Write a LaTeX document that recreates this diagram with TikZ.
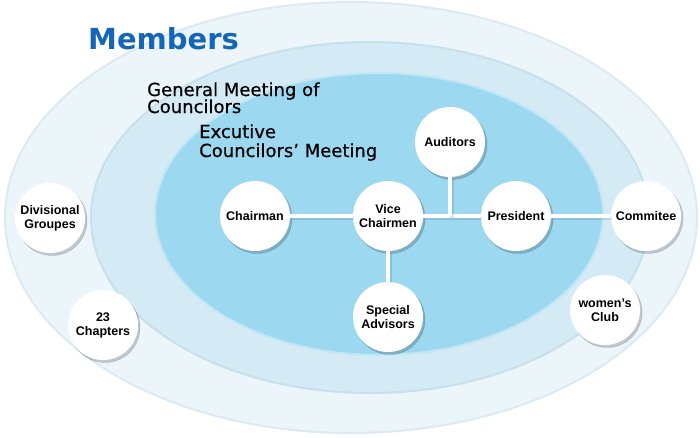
\documentclass[tikz,border=0pt]{standalone}
\usepackage{fontspec}
\setmainfont{Liberation Sans}
\newfontfamily\headfont[FakeBold=0.5]{DejaVu Sans}
\newfontfamily\bigfont{DejaVu Sans}
\usetikzlibrary{positioning}

\definecolor{ringout}{HTML}{EBF5FA}
\definecolor{ringoutedge}{HTML}{DCEAF1}
\definecolor{ringmid}{HTML}{D4EAF5}
\definecolor{ringmidedge}{HTML}{C6E0EC}
\definecolor{ringin}{HTML}{9CD9F1}
\definecolor{ringinedge}{HTML}{C2E6F4}
\definecolor{titleblue}{HTML}{1565B8}

\begin{document}
\begin{tikzpicture}[
  x=1pt, y=-1pt,
  shade ring/.style={preaction={draw=black, fill=black, opacity=#1,
    transform canvas={shift={(2pt,-2.5pt)}}}},
  member/.style={
    circle,
    fill=white,
    minimum size=70pt,
    inner sep=1pt,
    align=center,
    font=\bfseries\fontsize{12.5}{14}\selectfont,
    shade ring=0.05, preaction={line width=5pt},
    shade ring=0.06, preaction={line width=2.5pt},
    shade ring=0.08
  },
  link/.style={draw=white, line width=4pt},
  linkshade/.style={draw=black, opacity=0.10, line width=4pt,
    transform canvas={shift={(1.5pt,-1.5pt)}}},
  heading/.style={anchor=base west, inner sep=0pt, align=left,
    font=\headfont\fontsize{18}{18}\selectfont}
]
  \useasboundingbox (0,0) rectangle (700,437);

  % rings
  \filldraw[fill=ringout, draw=ringoutedge, line width=2pt]
    (351,217.5) ellipse [x radius=346, y radius=215.5];
  \filldraw[fill=ringmid, draw=ringmidedge, line width=2pt]
    (370,217.5) ellipse [x radius=279, y radius=175.5];
  \filldraw[fill=ringin, draw=ringinedge, line width=2pt]
    (379,214) ellipse [x radius=224, y radius=141];

  % headings
  \node[heading, font=\bigfont\bfseries\fontsize{29}{29}\selectfont,
    text=titleblue] (members) at (88,49) {Members};
  \node[heading] (general) at (147,96) {General Meeting of};
  \node[heading] (general2) at (147,113) {Councilors};
  \node[heading] (excutive) at (199,138) {Excutive};
  \node[heading] (excutive2) at (199,157) {Councilors’ Meeting};

  % member circles
  \node[member] (chair) at (255,216) {Chairman};
  \node[member] (vice) at (388,216) {Vice\\Chairmen};
  \node[member] (aud) at (450,142) {Auditors};
  \node[member] (pres) at (516,216) {President};
  \node[member] (comm) at (646,216) {Commitee};
  \node[member] (spec) at (388,317) {Special\\Advisors};
  \node[member] (div) at (50,218) {Divisional\\Groupes};
  \node[member] (chap) at (103,325) {23\\Chapters};
  \node[member] (women) at (605,310) {women’s\\Club};

  \coordinate (audfoot) at (aud |- vice);

  % links
  \foreach \from/\to in {chair.east/vice.west, vice.east/pres.west,
      pres.east/comm.west, vice.south/spec.north, aud.south/audfoot} {
    \draw[linkshade] (\from) -- (\to);
    \draw[link] (\from) -- (\to);
  }
\end{tikzpicture}
\end{document}
